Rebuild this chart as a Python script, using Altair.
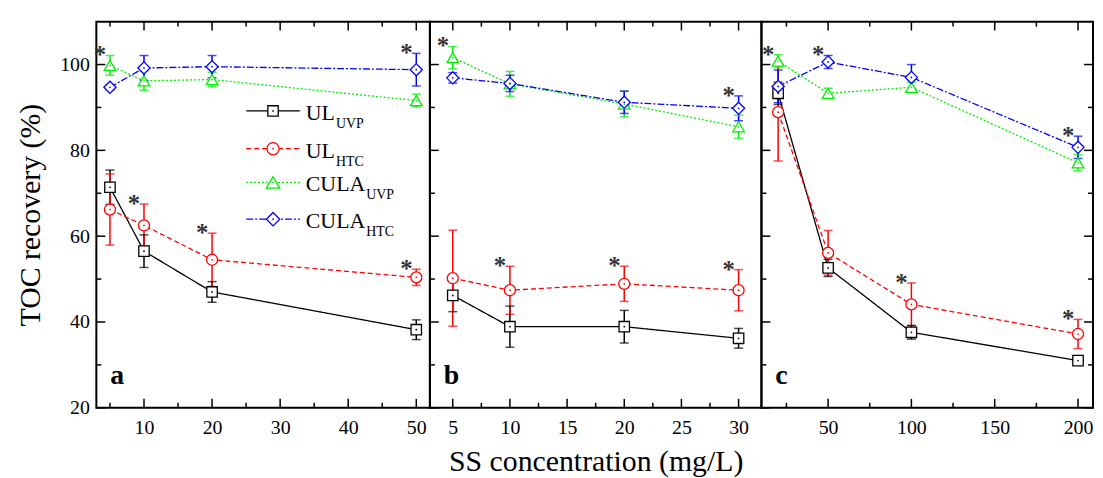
import altair as alt
import pandas as pd

# ---------------- data ----------------
series_names = ["UL_UVP", "UL_HTC", "CULA_UVP", "CULA_HTC"]
legend_main = ["UL", "UL", "CULA", "CULA"]
legend_sub = ["UVP", "HTC", "UVP", "HTC"]
panel_keys = ["a", "b", "c"]

x_a = [5, 10, 20, 50]
x_b = [5, 10, 20, 30]
x_c = [20, 50, 100, 200]

ul_uvp_a = [71.4, 56.5, 47.0, 38.2]
ul_uvp_a_err = [4.0, 3.8, 2.4, 2.3]
ul_htc_a = [66.2, 62.5, 54.5, 50.4]
ul_htc_a_err = [8.3, 5.0, 6.2, 1.9]
cula_uvp_a = [99.8, 96.2, 96.5, 91.6]
cula_uvp_a_err = [2.3, 2.2, 1.7, 1.5]
cula_htc_a = [94.7, 99.2, 99.5, 98.8]
cula_htc_a_err = [0.6, 2.9, 2.6, 3.8]

ul_uvp_b = [46.2, 38.9, 38.9, 36.2]
ul_uvp_b_err = [3.8, 4.8, 3.8, 2.3]
ul_htc_b = [50.2, 47.4, 48.9, 47.4]
ul_htc_b_err = [11.2, 5.6, 4.1, 4.8]
cula_uvp_b = [101.6, 95.5, 90.8, 85.5]
cula_uvp_b_err = [2.6, 2.9, 3.0, 2.7]
cula_htc_b = [96.9, 95.6, 91.2, 89.8]
cula_htc_b_err = [1.2, 1.9, 2.6, 2.9]

ul_uvp_c = [93.3, 52.6, 37.6, 31.0]
ul_uvp_c_err = [2.6, 2.0, 1.6, 0.8]
ul_htc_c = [88.9, 56.1, 44.1, 37.2]
ul_htc_c_err = [11.4, 5.2, 5.0, 3.4]
cula_uvp_c = [100.8, 93.3, 94.7, 77.1]
cula_uvp_c_err = [1.5, 1.2, 1.2, 1.9]
cula_htc_c = [94.9, 100.6, 97.0, 80.7]
cula_htc_c_err = [3.8, 1.5, 3.0, 2.6]

# significance stars: (panel, x, series)
star_panel = ["a", "a", "a", "a", "a", "b", "b", "b", "b", "b", "c", "c", "c", "c", "c"]
star_x = [5, 10, 20, 50, 50, 5, 10, 20, 30, 30, 20, 50, 100, 200, 200]
star_series = ["CULA_UVP", "UL_HTC", "UL_HTC", "UL_HTC", "CULA_HTC",
               "CULA_UVP", "UL_HTC", "UL_HTC", "UL_HTC", "CULA_HTC",
               "CULA_UVP", "CULA_HTC", "UL_HTC", "UL_HTC", "CULA_HTC"]

# axis tick values
y_major = [20, 40, 60, 80, 100]
y_minor = [30, 50, 70, 90]
x_major_a = [10, 20, 30, 40, 50]
x_minor_a = [5, 15, 25, 35, 45]
x_major_b = [5, 10, 15, 20, 25, 30]
x_minor_b = [7.5, 12.5, 17.5, 22.5, 27.5]
x_major_c = [50, 100, 150, 200]
x_minor_c = [25, 75, 125, 175]

# ---------------- styles ----------------
FONT = "Liberation Serif"
series_colors = ["#000000", "#ff0000", "#00ee00", "#0000ff"]
series_shapes = ["square", "circle", "triangle-up", "diamond"]
series_sizes = [110, 150, 180, 180]
series_dash = [[1, 0], [5, 3], [2, 2], [7, 2, 2, 2]]
H = 389

# ---------------- table ----------------
panel_data = {
    "a": (x_a, [(ul_uvp_a, ul_uvp_a_err), (ul_htc_a, ul_htc_a_err),
                (cula_uvp_a, cula_uvp_a_err), (cula_htc_a, cula_htc_a_err)]),
    "b": (x_b, [(ul_uvp_b, ul_uvp_b_err), (ul_htc_b, ul_htc_b_err),
                (cula_uvp_b, cula_uvp_b_err), (cula_htc_b, cula_htc_b_err)]),
    "c": (x_c, [(ul_uvp_c, ul_uvp_c_err), (ul_htc_c, ul_htc_c_err),
                (cula_uvp_c, cula_uvp_c_err), (cula_htc_c, cula_htc_c_err)]),
}
rows = []
for key, (xs, groups) in panel_data.items():
    for s, (means, errs) in zip(series_names, groups):
        for x, m, e in zip(xs, means, errs):
            rows.append(dict(panel=key, series=s, x=x, mean=m, lo=m - e, hi=m + e))
df = pd.DataFrame(rows)

star_df = pd.DataFrame({"panel": star_panel, "x": star_x, "series": star_series})
star_df = star_df.merge(df[["panel", "x", "series", "hi"]], on=["panel", "x", "series"])

color_scale = alt.Scale(domain=series_names, range=series_colors)
shape_scale = alt.Scale(domain=series_names, range=series_shapes)
size_scale = alt.Scale(domain=series_names, range=series_sizes)
dash_scale = alt.Scale(domain=series_names, range=series_dash)
yscale = alt.Scale(domain=[20, 110], nice=False, zero=False)


def panel(key, domain, major, minor, show_y, x_title, right_ticks, letter, with_legend, W):
    d = df[df.panel == key]
    xscale = alt.Scale(domain=domain, nice=False, zero=False)
    xaxis = alt.Axis(values=major, ticks=False, domain=False, grid=False,
                     labelFontSize=20, labelPadding=10, labelColor="black",
                     labelFont=FONT, title=x_title, titleFontSize=30,
                     titleFontWeight="normal", titleColor="black", titlePadding=9,
                     titleFont=FONT)
    if show_y:
        yaxis = alt.Axis(values=y_major, ticks=False, domain=False, grid=False,
                         labelFontSize=20, labelPadding=7, labelColor="black",
                         labelFont=FONT, title="TOC recovery (%)", titleFontSize=30,
                         titleFontWeight="normal", titleColor="black", titlePadding=14,
                         titleFont=FONT)
    else:
        yaxis = None

    def XF(f):
        return alt.X(f, scale=xscale, axis=xaxis)

    def YF(f):
        return alt.Y(f, scale=yscale, axis=yaxis)

    base = alt.Chart(d)
    col = alt.Color("series:N", scale=color_scale, legend=None)

    lines = base.mark_line(strokeWidth=1.3).encode(
        x=XF("x:Q"), y=YF("mean:Q"), color=col,
        strokeDash=alt.StrokeDash("series:N", scale=dash_scale, legend=None),
        detail="series:N",
    )
    err = base.mark_rule(strokeWidth=1.5).encode(
        x=XF("x:Q"), y=YF("lo:Q"), y2="hi:Q", color=col,
    )
    cap_lo = base.mark_tick(orient="horizontal", size=9, thickness=1.5).encode(
        x=XF("x:Q"), y=YF("lo:Q"), color=col,
    )
    cap_hi = base.mark_tick(orient="horizontal", size=9, thickness=1.5).encode(
        x=XF("x:Q"), y=YF("hi:Q"), color=col,
    )
    pts = base.mark_point(fill="white", fillOpacity=1, strokeWidth=1.3, opacity=1).encode(
        x=XF("x:Q"), y=YF("mean:Q"),
        stroke=alt.Stroke("series:N", scale=color_scale, legend=None),
        shape=alt.Shape("series:N", scale=shape_scale, legend=None),
        size=alt.Size("series:N", scale=size_scale, legend=None),
    )
    dots = base.mark_point(filled=True, size=3, opacity=1).encode(
        x=XF("x:Q"), y=YF("mean:Q"), color=col,
    )
    stars = alt.Chart(star_df[star_df.panel == key]).mark_text(
        text="*", fontSize=25, fontWeight="bold", font=FONT, color="#333333",
        align="center", baseline="alphabetic", dx=-10, dy=8,
    ).encode(x=XF("x:Q"), y=YF("hi:Q"))

    lab = alt.Chart(pd.DataFrame({"t": [letter]})).mark_text(
        fontSize=28, fontWeight="bold", font=FONT, color="black",
        align="left", baseline="alphabetic",
    ).encode(x=alt.value(14), y=alt.value(365), text="t:N")

    # inward frame ticks
    def xt(vals, ln):
        dd = pd.DataFrame({"x": vals})
        b = alt.Chart(dd).mark_rule(color="black", strokeWidth=1.5)
        return [
            b.encode(x=XF("x:Q"), y=alt.value(H), y2=alt.value(H - ln)),
            b.encode(x=XF("x:Q"), y=alt.value(0), y2=alt.value(ln)),
        ]

    def yt(vals, ln):
        dd = pd.DataFrame({"mean": vals})
        b = alt.Chart(dd).mark_rule(color="black", strokeWidth=1.5)
        out = [b.encode(y=YF("mean:Q"), x=alt.value(0), x2=alt.value(ln))]
        if right_ticks:
            out.append(b.encode(y=YF("mean:Q"), x=alt.value(W), x2=alt.value(W - ln)))
        return out

    tick_layers = xt(major, 9) + xt(minor, 5) + yt(y_major, 9) + yt(y_minor, 5)

    layers = [lines, err, cap_lo, cap_hi, pts, dots, stars, lab] + tick_layers

    if with_legend:
        row_y = [90, 128, 162, 199]
        char_w = {"U": 0.722, "L": 0.611, "C": 0.667, "A": 0.722}
        one = pd.DataFrame({"k": [0]})
        for i, s in enumerate(series_names):
            ry = row_y[i]
            main_w = sum(char_w[ch] for ch in legend_main[i]) * 22
            layers.append(alt.Chart(one).mark_rule(
                color=series_colors[i], strokeDash=series_dash[i], strokeWidth=1.3
            ).encode(x=alt.value(151), x2=alt.value(205), y=alt.value(ry)))
            layers.append(alt.Chart(one).mark_point(
                shape=series_shapes[i], size=series_sizes[i], stroke=series_colors[i],
                fill="white", fillOpacity=1, strokeWidth=1.3, opacity=1
            ).encode(x=alt.value(178), y=alt.value(ry)))
            layers.append(alt.Chart(one).mark_point(
                filled=True, size=3, color=series_colors[i], opacity=1
            ).encode(x=alt.value(178), y=alt.value(ry)))
            layers.append(alt.Chart(one).mark_text(
                text=legend_main[i], fontSize=22, font=FONT, color="black",
                align="left", baseline="alphabetic"
            ).encode(x=alt.value(211), y=alt.value(ry + 9)))
            layers.append(alt.Chart(one).mark_text(
                text=legend_sub[i], fontSize=14, font=FONT, color="black",
                align="left", baseline="alphabetic"
            ).encode(x=alt.value(211 + main_w + 1), y=alt.value(ry + 17)))

    return alt.layer(*layers).properties(width=W, height=H)


pa = panel("a", [3, 52], x_major_a, x_minor_a, True, None, False, "a", True, 336)
pb = panel("b", [3, 32], x_major_b, x_minor_b, False, "SS concentration (mg/L)", False, "b", False, 334)
pc = panel("c", [10, 209], x_major_c, x_minor_c, False, None, True, "c", False, 334)

chart = alt.hconcat(pa, pb, pc, spacing=0, bounds="flush").properties(
    padding={"left": 7, "top": 10, "right": 0, "bottom": 0}
).configure_view(stroke="black", strokeWidth=2).configure_axis(
    labelFont=FONT, titleFont=FONT
).configure_text(font=FONT)

chart.save("out.html", embed_options={"renderer": "svg", "actions": False})
